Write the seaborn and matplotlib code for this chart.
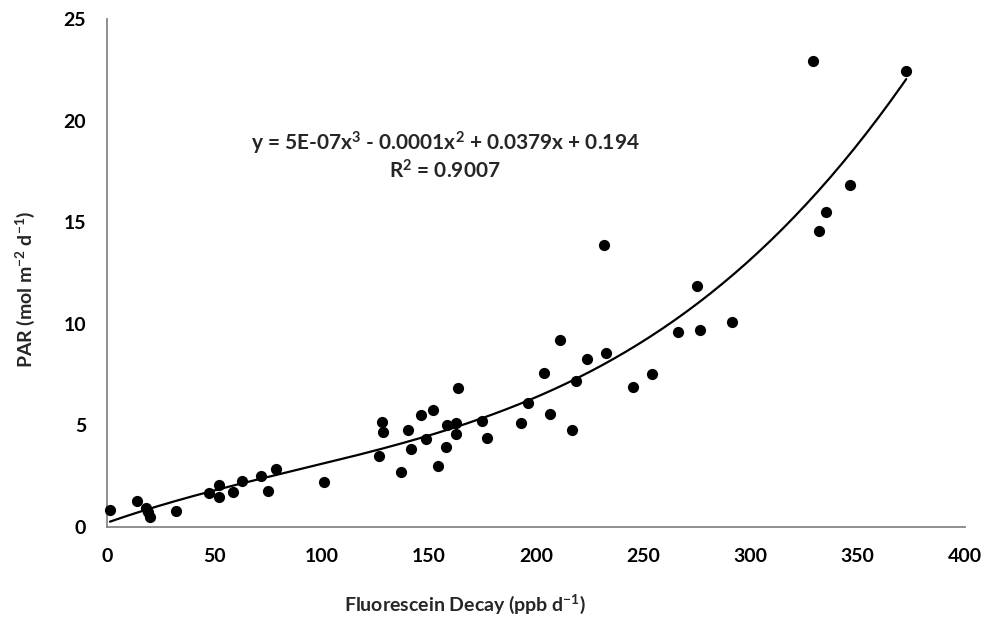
import numpy as np
import pandas as pd
import matplotlib
matplotlib.use("Agg")
import matplotlib.pyplot as plt
import seaborn as sns

# values
decay = [1.4, 14, 18, 19, 20, 32.3, 47.6, 52.4, 52.4, 58.6, 63.1, 72, 75, 78.6, 101,
         126.6, 128, 128.5, 136.9, 140.5, 141.9, 146.2, 148.9, 152, 154.2, 158.2, 158.5,
         162.7, 162.7, 163.6, 174.7, 177, 193, 196.1, 203.7, 206.4, 211.2, 216.6, 218.8,
         223.9, 231.7, 232.5, 245.4, 254.2, 266.3, 275.2, 276.6, 291.4, 329, 332, 335,
         346.4, 372.6]
par = [0.84, 1.29, 0.95, 0.75, 0.5, 0.79, 1.66, 2.07, 1.46, 1.72, 2.28, 2.51, 1.76, 2.87, 2.21,
       3.49, 5.15, 4.68, 2.69, 4.77, 3.84, 5.53, 4.33, 5.76, 2.99, 3.92, 5.02,
       5.12, 4.58, 6.84, 5.23, 4.4, 5.13, 6.09, 7.56, 5.56, 9.19, 4.77, 7.17,
       8.25, 13.88, 8.55, 6.88, 7.55, 9.61, 11.86, 9.71, 10.09, 22.93, 14.58, 15.49,
       16.83, 22.46]
x_ticks = [0, 50, 100, 150, 200, 250, 300, 350, 400]
y_ticks = [0, 5, 10, 15, 20, 25]
equation = "y = 5E-07x$^{3}$ - 0.0001x$^{2}$ + 0.0379x + 0.194"
r2_text = "R$^{2}$ = 0.9007"

df = pd.DataFrame({"decay": decay, "par": par})

# cubic trendline like excel
coef = np.polyfit(df["decay"], df["par"], 3)
xs = np.linspace(df["decay"].min(), df["decay"].max(), 200)
fit = pd.DataFrame({"decay": xs, "par": np.polyval(coef, xs)})

sns.set_style("white")
plt.rcParams["font.family"] = ["Lato", "DejaVu Sans"]
plt.rcParams["mathtext.fontset"] = "custom"
plt.rcParams["mathtext.rm"] = "Lato:bold"
plt.rcParams["mathtext.it"] = "Lato:bold"
plt.rcParams["mathtext.bf"] = "Lato:bold"

fig = plt.figure(figsize=(9.85, 6.22), dpi=100)
ax = fig.add_axes([0.1086, 0.1527, 0.8711, 0.8168])

sns.lineplot(data=fit, x="decay", y="par", color="black", linewidth=1.6, ax=ax)
sns.scatterplot(data=df, x="decay", y="par", color="black", s=65, edgecolor="black",
                linewidth=0, ax=ax, zorder=3, clip_on=False)

ax.set_xlim(0, 400)
ax.set_ylim(0, 25)
ax.set_xticks(x_ticks)
ax.set_yticks(y_ticks)
ax.set_xticklabels([str(t) for t in x_ticks], fontsize=14, fontweight="bold")
ax.set_yticklabels([str(t) for t in y_ticks], fontsize=14, fontweight="bold")

sns.despine(ax=ax)
for side in ["left", "bottom"]:
    ax.spines[side].set_color("#868686")
    ax.spines[side].set_linewidth(1.3)
ax.tick_params(axis="both", direction="out", length=6, width=1.3, color="#868686",
               pad=9, labelcolor="black")

ax.set_xlabel("Fluorescein Decay (ppb d$^{-1}$)", fontsize=14, fontweight="bold")
ax.set_ylabel("PAR (mol m$^{-2}$ d$^{-1}$)", fontsize=14, fontweight="bold")
ax.xaxis.set_label_coords(0.417, -0.13)
ax.yaxis.set_label_coords(-0.082, 0.467)

ax.text(157.6, 18.9, equation, ha="center", va="center", fontsize=15, fontweight="bold")
ax.text(157.6, 17.5, r2_text, ha="center", va="center", fontsize=15, fontweight="bold")

fig.savefig("out.png", dpi=100)
